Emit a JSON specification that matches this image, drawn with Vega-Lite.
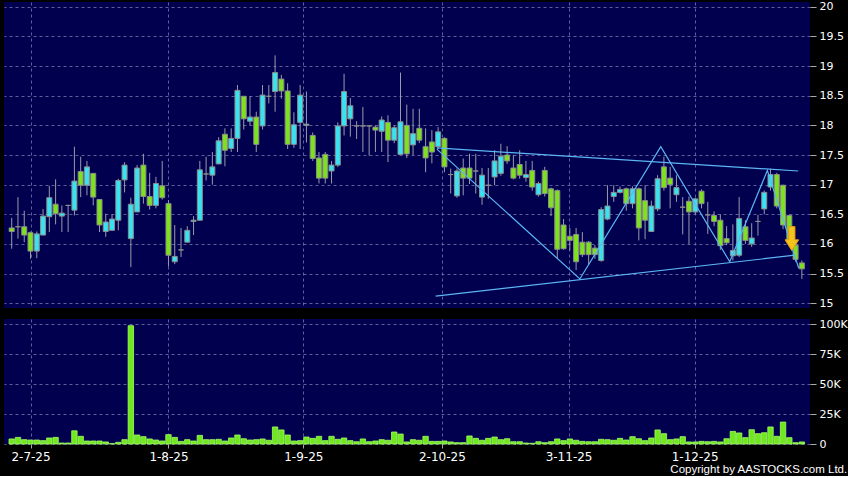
{
  "$schema": "https://vega.github.io/schema/vega-lite/v6.json",
  "background": "#000000",
  "padding": {"left": 4, "top": 0, "right": 0, "bottom": 0},
  "config": {
    "view": {"fill": "#00004f", "stroke": null},
    "font": "DejaVu Sans",
    "axis": {"title": null, "labelColor": "#ffffff", "gridColor": "#6f6fa8", "gridDash": [3, 3], "gridWidth": 1, "gridOpacity": 0.85, "tickColor": "#aaaaaa", "domain": false}
  },
  "title": {"text": "Copyright by AASTOCKS.com Ltd.", "orient": "bottom", "anchor": "end", "color": "#ffffff", "fontSize": 11.5, "fontWeight": "normal", "font": "Liberation Sans", "offset": 2},
  "datasets": {
    "ohlc": [
      {"i":0,"o":16.27,"h":16.44,"l":15.92,"c":16.21,"v":4.2},
      {"i":1,"o":16.29,"h":16.79,"l":16.09,"c":16.29,"v":5.5},
      {"i":2,"o":16.29,"h":16.56,"l":16.03,"c":16.15,"v":3.6},
      {"i":3,"o":16.19,"h":16.21,"l":15.75,"c":15.88,"v":3.3},
      {"i":4,"o":15.88,"h":16.21,"l":15.76,"c":16.17,"v":3.3},
      {"i":5,"o":16.15,"h":16.59,"l":16.15,"c":16.47,"v":2.8},
      {"i":6,"o":16.46,"h":16.98,"l":16.2,"c":16.78,"v":5},
      {"i":7,"o":16.67,"h":17.09,"l":16.33,"c":16.51,"v":5.5},
      {"i":8,"o":16.47,"h":16.65,"l":16.2,"c":16.52,"v":0.8},
      {"i":9,"o":16.65,"h":16.66,"l":16.2,"c":16.65,"v":0.8},
      {"i":10,"o":16.57,"h":17.64,"l":16.48,"c":17.06,"v":11},
      {"i":11,"o":17.22,"h":17.47,"l":16.79,"c":16.99,"v":6.4},
      {"i":12,"o":16.99,"h":17.4,"l":16.82,"c":17.3,"v":2.5},
      {"i":13,"o":17.19,"h":17.19,"l":16.65,"c":16.79,"v":2.5},
      {"i":14,"o":16.75,"h":16.75,"l":16.2,"c":16.32,"v":2.5},
      {"i":15,"o":16.21,"h":16.51,"l":16.12,"c":16.37,"v":1.7},
      {"i":16,"o":16.23,"h":16.5,"l":16.23,"c":16.42,"v":0.3},
      {"i":17,"o":16.4,"h":17.1,"l":16.23,"c":17.07,"v":1.4},
      {"i":18,"o":17.08,"h":17.38,"l":16.87,"c":17.33,"v":3.6},
      {"i":19,"o":16.09,"h":16.78,"l":15.61,"c":16.67,"v":98.6},
      {"i":20,"o":16.54,"h":17.33,"l":16.54,"c":17.28,"v":7.5},
      {"i":21,"o":17.33,"h":17.52,"l":16.68,"c":16.8,"v":6.1},
      {"i":22,"o":16.8,"h":17.2,"l":16.58,"c":16.65,"v":4.2},
      {"i":23,"o":16.65,"h":17.13,"l":16.6,"c":17.02,"v":3.3},
      {"i":24,"o":16.98,"h":17.4,"l":16.75,"c":16.78,"v":2.5},
      {"i":25,"o":16.68,"h":16.74,"l":15.62,"c":15.81,"v":7.8},
      {"i":26,"o":15.7,"h":16.32,"l":15.66,"c":15.79,"v":5.5},
      {"i":27,"o":15.9,"h":16.27,"l":15.78,"c":15.9,"v":2.2},
      {"i":28,"o":16.03,"h":16.3,"l":16.03,"c":16.23,"v":3.6},
      {"i":29,"o":16.38,"h":16.47,"l":16.15,"c":16.4,"v":2.5},
      {"i":30,"o":16.4,"h":17.4,"l":16.4,"c":17.25,"v":7.2},
      {"i":31,"o":17.18,"h":17.47,"l":17.07,"c":17.18,"v":3.6},
      {"i":32,"o":17.16,"h":17.55,"l":17.0,"c":17.3,"v":3.6},
      {"i":33,"o":17.35,"h":17.8,"l":17.35,"c":17.74,"v":3.9},
      {"i":34,"o":17.85,"h":17.95,"l":17.31,"c":17.58,"v":2.5},
      {"i":35,"o":17.61,"h":17.95,"l":17.55,"c":17.78,"v":5},
      {"i":36,"o":17.78,"h":18.68,"l":17.55,"c":18.59,"v":7.5},
      {"i":37,"o":18.49,"h":18.49,"l":17.93,"c":18.11,"v":4.4},
      {"i":38,"o":18.07,"h":18.49,"l":18.0,"c":18.14,"v":3.3},
      {"i":39,"o":18.14,"h":18.23,"l":17.55,"c":17.68,"v":3.6},
      {"i":40,"o":17.99,"h":18.68,"l":17.93,"c":18.51,"v":4.2},
      {"i":41,"o":18.49,"h":18.68,"l":18.37,"c":18.49,"v":3.1},
      {"i":42,"o":18.57,"h":19.18,"l":18.23,"c":18.89,"v":14.2},
      {"i":43,"o":18.78,"h":18.85,"l":18.45,"c":18.58,"v":11.7},
      {"i":44,"o":18.58,"h":18.71,"l":17.6,"c":17.68,"v":7.5},
      {"i":45,"o":17.68,"h":18.22,"l":17.62,"c":18.01,"v":2.5},
      {"i":46,"o":18.05,"h":18.68,"l":17.6,"c":18.51,"v":2.8},
      {"i":47,"o":18.0,"h":18.57,"l":17.71,"c":18.02,"v":5.8},
      {"i":48,"o":17.83,"h":17.88,"l":17.4,"c":17.44,"v":4.7},
      {"i":49,"o":17.45,"h":17.55,"l":17.02,"c":17.11,"v":6.4},
      {"i":50,"o":17.51,"h":17.55,"l":17.02,"c":17.11,"v":2.8},
      {"i":51,"o":17.23,"h":17.4,"l":17.02,"c":17.33,"v":6.4},
      {"i":52,"o":17.33,"h":18.05,"l":17.3,"c":17.99,"v":3.9},
      {"i":53,"o":17.99,"h":18.87,"l":17.83,"c":18.57,"v":5},
      {"i":54,"o":18.11,"h":18.46,"l":17.81,"c":18.33,"v":2.8},
      {"i":55,"o":17.99,"h":18.07,"l":17.77,"c":17.99,"v":1.9},
      {"i":56,"o":17.99,"h":18.31,"l":17.55,"c":17.99,"v":4.2},
      {"i":57,"o":17.99,"h":18.0,"l":17.49,"c":17.99,"v":1.9},
      {"i":58,"o":17.97,"h":18.0,"l":17.55,"c":17.92,"v":2.5},
      {"i":59,"o":17.9,"h":18.15,"l":17.55,"c":18.09,"v":3.6},
      {"i":60,"o":18.05,"h":18.17,"l":17.38,"c":17.75,"v":3.1},
      {"i":61,"o":17.75,"h":18.0,"l":17.7,"c":17.96,"v":10},
      {"i":62,"o":17.51,"h":18.89,"l":17.51,"c":18.06,"v":8.3},
      {"i":63,"o":18.0,"h":18.35,"l":17.45,"c":17.52,"v":1.7},
      {"i":64,"o":17.67,"h":18.28,"l":17.5,"c":17.86,"v":3.6},
      {"i":65,"o":17.95,"h":18.28,"l":17.7,"c":17.75,"v":3.1},
      {"i":66,"o":17.64,"h":17.95,"l":17.21,"c":17.45,"v":6.4},
      {"i":67,"o":17.72,"h":17.92,"l":17.36,"c":17.55,"v":2.2},
      {"i":68,"o":17.64,"h":17.97,"l":17.6,"c":17.89,"v":2.2},
      {"i":69,"o":17.78,"h":17.8,"l":17.21,"c":17.3,"v":2.5},
      {"i":70,"o":17.17,"h":17.27,"l":16.85,"c":17.17,"v":1.7},
      {"i":71,"o":16.81,"h":17.27,"l":16.78,"c":17.23,"v":1.1},
      {"i":72,"o":17.28,"h":17.44,"l":16.82,"c":17.11,"v":1.1},
      {"i":73,"o":17.28,"h":17.52,"l":17.01,"c":17.11,"v":6.7},
      {"i":74,"o":17.23,"h":17.52,"l":16.85,"c":17.23,"v":4.7},
      {"i":75,"o":16.79,"h":17.28,"l":16.66,"c":17.16,"v":3.1},
      {"i":76,"o":16.99,"h":17.28,"l":16.76,"c":16.99,"v":4.7},
      {"i":77,"o":17.13,"h":17.58,"l":16.99,"c":17.4,"v":5.8},
      {"i":78,"o":17.19,"h":17.69,"l":17.15,"c":17.48,"v":3.6},
      {"i":79,"o":17.5,"h":17.65,"l":17.35,"c":17.4,"v":4.4},
      {"i":80,"o":17.28,"h":17.5,"l":17.09,"c":17.11,"v":1.9},
      {"i":81,"o":17.34,"h":17.58,"l":17.1,"c":17.16,"v":1.9},
      {"i":82,"o":17.12,"h":17.4,"l":17.05,"c":17.17,"v":0.8},
      {"i":83,"o":17.24,"h":17.4,"l":16.9,"c":16.96,"v":0.6},
      {"i":84,"o":16.83,"h":17.05,"l":16.8,"c":17.02,"v":1.9},
      {"i":85,"o":17.24,"h":17.3,"l":16.8,"c":16.85,"v":1.1},
      {"i":86,"o":16.93,"h":16.95,"l":16.47,"c":16.61,"v":1.9},
      {"i":87,"o":16.9,"h":16.92,"l":15.75,"c":15.91,"v":4.2},
      {"i":88,"o":16.32,"h":16.42,"l":15.9,"c":15.92,"v":2.8},
      {"i":89,"o":16.13,"h":16.27,"l":15.89,"c":16.06,"v":4.2},
      {"i":90,"o":16.16,"h":16.27,"l":15.56,"c":15.7,"v":3.1},
      {"i":91,"o":16.03,"h":16.2,"l":15.78,"c":15.82,"v":2.2},
      {"i":92,"o":16.03,"h":16.05,"l":15.65,"c":15.82,"v":1.9},
      {"i":93,"o":15.93,"h":15.98,"l":15.75,"c":15.82,"v":1.9},
      {"i":94,"o":15.72,"h":16.62,"l":15.7,"c":16.58,"v":3.9},
      {"i":95,"o":16.42,"h":16.99,"l":16.4,"c":16.64,"v":3.6},
      {"i":96,"o":16.8,"h":16.99,"l":16.71,"c":16.87,"v":3.1},
      {"i":97,"o":16.87,"h":16.97,"l":16.85,"c":16.92,"v":4.7},
      {"i":98,"o":16.93,"h":16.95,"l":16.56,"c":16.68,"v":3.3},
      {"i":99,"o":16.68,"h":16.97,"l":16.6,"c":16.93,"v":6.1},
      {"i":100,"o":16.93,"h":16.95,"l":16.06,"c":16.27,"v":4.4},
      {"i":101,"o":16.73,"h":16.99,"l":16.08,"c":16.4,"v":2.8},
      {"i":102,"o":16.21,"h":16.73,"l":16.2,"c":16.64,"v":5},
      {"i":103,"o":16.59,"h":17.16,"l":16.55,"c":17.1,"v":11.7},
      {"i":104,"o":17.3,"h":17.47,"l":16.9,"c":16.95,"v":8.6},
      {"i":105,"o":17.11,"h":17.3,"l":16.6,"c":17.0,"v":3.6},
      {"i":106,"o":16.83,"h":17.16,"l":16.71,"c":16.95,"v":4.2},
      {"i":107,"o":16.62,"h":16.79,"l":16.16,"c":16.62,"v":6.1},
      {"i":108,"o":16.72,"h":16.8,"l":16.0,"c":16.54,"v":1.7},
      {"i":109,"o":16.54,"h":16.78,"l":16.5,"c":16.76,"v":1.7},
      {"i":110,"o":16.89,"h":16.92,"l":16.6,"c":16.68,"v":2.2},
      {"i":111,"o":16.49,"h":16.71,"l":16.17,"c":16.49,"v":1.9},
      {"i":112,"o":16.48,"h":16.55,"l":16.3,"c":16.38,"v":2.2},
      {"i":113,"o":16.4,"h":16.5,"l":15.9,"c":15.97,"v":1.7},
      {"i":114,"o":16.09,"h":16.3,"l":15.98,"c":16.02,"v":4.4},
      {"i":115,"o":15.8,"h":16.33,"l":15.72,"c":15.89,"v":10.5},
      {"i":116,"o":15.81,"h":16.79,"l":15.78,"c":16.43,"v":9.2},
      {"i":117,"o":16.29,"h":16.4,"l":16.0,"c":16.06,"v":5.3},
      {"i":118,"o":16.0,"h":16.35,"l":15.95,"c":16.1,"v":11.9},
      {"i":119,"o":16.38,"h":16.49,"l":16.14,"c":16.38,"v":8.6},
      {"i":120,"o":16.59,"h":16.9,"l":16.5,"c":16.87,"v":9.4},
      {"i":121,"o":16.96,"h":17.27,"l":16.9,"c":17.17,"v":14.2},
      {"i":122,"o":17.17,"h":17.2,"l":16.6,"c":16.64,"v":6.4},
      {"i":123,"o":16.99,"h":17.0,"l":16.25,"c":16.32,"v":18.3},
      {"i":124,"o":16.48,"h":16.5,"l":16.0,"c":16.06,"v":5.3},
      {"i":125,"o":15.98,"h":16.0,"l":15.7,"c":15.74,"v":1.1},
      {"i":126,"o":15.68,"h":15.72,"l":15.41,"c":15.58,"v":1.7}
    ],
    "lines": [
      {"line":"upper","k":0,"x":67.8,"y":17.62},
      {"line":"upper","k":1,"x":125.4,"y":17.23},
      {"line":"lower","k":0,"x":67.6,"y":15.12},
      {"line":"lower","k":1,"x":124.9,"y":15.81},
      {"line":"zigzag","k":0,"x":67.8,"y":17.6},
      {"line":"zigzag","k":1,"x":90.6,"y":15.41},
      {"line":"zigzag","k":2,"x":103.5,"y":17.64},
      {"line":"zigzag","k":3,"x":114.5,"y":15.7},
      {"line":"zigzag","k":4,"x":120.5,"y":17.24},
      {"line":"zigzag","k":5,"x":125.5,"y":15.59}
    ],
    "arrow": [
      {"x":124.4,"y":16.09}
    ]
  },
  "spacing": 9,
  "vconcat": [
    {
      "width": 806,
      "height": 306,
      "data": {"name": "ohlc"},
      "layer": [
        {
          "mark": {"type": "rule", "color": "#9a9aaa", "strokeWidth": 1},
          "encoding": {
            "x": {"field": "i", "type": "quantitative",
              "scale": {"domain": [-0.43, 126.5], "nice": false, "zero": false},
              "axis": {"orient": "bottom", "values": [3, 25, 46.5, 68.6, 88.8, 108.9], "labels": false, "ticks": false, "grid": true}},
            "y": {"field": "l", "type": "quantitative",
              "scale": {"domain": [14.92, 20.08], "nice": false, "zero": false},
              "axis": {"orient": "right", "values": [15, 15.5, 16, 16.5, 17, 17.5, 18, 18.5, 19, 19.5, 20], "format": "~g", "grid": true, "labelFontSize": 11, "tickSize": 6, "labelPadding": 3, "labelOverlap": false}},
            "y2": {"field": "h"}
          }
        },
        {
          "mark": {"type": "bar", "width": 5, "stroke": "#8c8c8c", "strokeWidth": 1},
          "encoding": {
            "x": {"field": "i", "type": "quantitative",
              "axis": {"orient": "bottom", "values": [3, 25, 46.5, 68.6, 88.8, 108.9], "labels": false, "ticks": false, "grid": true}},
            "y": {"field": "o", "type": "quantitative",
              "axis": {"orient": "right", "values": [15, 15.5, 16, 16.5, 17, 17.5, 18, 18.5, 19, 19.5, 20], "format": "~g", "grid": true, "labelFontSize": 11, "tickSize": 6, "labelPadding": 3, "labelOverlap": false}},
            "y2": {"field": "c"},
            "color": {"condition": {"test": "datum.c >= datum.o", "value": "#38e2f0"}, "value": "#7ee11e"}
          }
        },
        {
          "data": {"name": "lines"},
          "mark": {"type": "line", "color": "#5cb6f4", "strokeWidth": 1.2},
          "encoding": {
            "x": {"field": "x", "type": "quantitative",
              "axis": {"orient": "bottom", "values": [3, 25, 46.5, 68.6, 88.8, 108.9], "labels": false, "ticks": false, "grid": true}},
            "y": {"field": "y", "type": "quantitative",
              "axis": {"orient": "right", "values": [15, 15.5, 16, 16.5, 17, 17.5, 18, 18.5, 19, 19.5, 20], "format": "~g", "grid": true, "labelFontSize": 11, "tickSize": 6, "labelPadding": 3, "labelOverlap": false}},
            "detail": {"field": "line", "type": "nominal"},
            "order": {"field": "k", "type": "quantitative"}
          }
        },
        {
          "data": {"name": "arrow"},
          "mark": {"type": "point", "shape": "M-0.26,-1L0.26,-1L0.26,0.1L0.57,0.1L0,1L-0.57,0.1L-0.26,0.1Z", "size": 576, "filled": true, "fill": "#f6c21c", "stroke": "#e59a10", "strokeWidth": 1, "opacity": 1},
          "encoding": {
            "x": {"field": "x", "type": "quantitative",
              "axis": {"orient": "bottom", "values": [3, 25, 46.5, 68.6, 88.8, 108.9], "labels": false, "ticks": false, "grid": true}},
            "y": {"field": "y", "type": "quantitative",
              "axis": {"orient": "right", "values": [15, 15.5, 16, 16.5, 17, 17.5, 18, 18.5, 19, 19.5, 20], "format": "~g", "grid": true, "labelFontSize": 11, "tickSize": 6, "labelPadding": 3, "labelOverlap": false}}
          }
        }
      ]
    },
    {
      "width": 806,
      "height": 125,
      "data": {"name": "ohlc"},
      "mark": {"type": "bar", "width": 5.4, "color": "#6fe81c", "stroke": "#a6ff6a", "strokeWidth": 0.8},
      "encoding": {
        "x": {"field": "i", "type": "quantitative",
          "scale": {"domain": [-0.43, 126.5], "nice": false, "zero": false},
          "axis": {"orient": "bottom", "values": [3, 25, 46.5, 68.6, 88.8, 108.9], "grid": true, "tickSize": 4, "labelFontSize": 12, "labelPadding": 3,
            "labelExpr": "datum.value < 10 ? '2-7-25' : datum.value < 30 ? '1-8-25' : datum.value < 50 ? '1-9-25' : datum.value < 75 ? '2-10-25' : datum.value < 95 ? '3-11-25' : '1-12-25'"}},
        "y": {"field": "v", "type": "quantitative",
          "scale": {"domain": [0, 104.2], "nice": false, "zero": true},
          "axis": {"orient": "right", "values": [0, 25, 50, 75, 100], "grid": true, "labelFontSize": 11, "tickSize": 6, "labelPadding": 3,
            "labelExpr": "datum.value == 0 ? '0' : datum.value + 'K'"}}
      }
    }
  ]
}
